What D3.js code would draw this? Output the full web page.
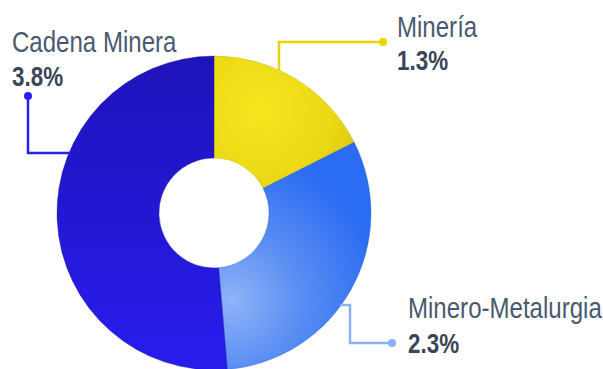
<!DOCTYPE html>
<html>
<head>
<meta charset="utf-8">
<script src="https://cdn.jsdelivr.net/npm/d3@7"></script>
<style>
  body { margin: 0; background: #fff; }
  svg { display: block; }
  text { font-family: "Liberation Sans", Arial, sans-serif; }
</style>
</head>
<body>
<div id="chart"></div>
<script>
// data
var categories = ["Minería", "Minero-Metalurgia", "Cadena Minera"];
var values = [1.3, 2.3, 3.8];
var valueLabels = ["1.3%", "2.3%", "3.8%"];

var width = 603, height = 369;
var cx = 214, cy = 213, outerR = 157, innerR = 55;

var svg = d3.select("#chart").append("svg")
    .attr("width", width)
    .attr("height", height);

var defs = svg.append("defs");

// slice shading (coords relative to the pie centre)
var gY = defs.append("radialGradient").attr("id", "gY")
    .attr("gradientUnits", "userSpaceOnUse")
    .attr("cx", 45).attr("cy", -103).attr("r", 115);
gY.append("stop").attr("offset", "0%").attr("stop-color", "#f5e61e");
gY.append("stop").attr("offset", "65%").attr("stop-color", "#ead814");
gY.append("stop").attr("offset", "100%").attr("stop-color", "#d6c40c");

var gB = defs.append("radialGradient").attr("id", "gB")
    .attr("gradientUnits", "userSpaceOnUse")
    .attr("cx", 18).attr("cy", 88).attr("r", 150);
gB.append("stop").attr("offset", "0%").attr("stop-color", "#8fb3f8");
gB.append("stop").attr("offset", "45%").attr("stop-color", "#5b8ef3");
gB.append("stop").attr("offset", "100%").attr("stop-color", "#2a6cf2");

var gD = defs.append("linearGradient").attr("id", "gD")
    .attr("gradientUnits", "userSpaceOnUse")
    .attr("x1", 0).attr("y1", -outerR).attr("x2", 0).attr("y2", outerR);
gD.append("stop").attr("offset", "0%").attr("stop-color", "#1f13ba");
gD.append("stop").attr("offset", "100%").attr("stop-color", "#281ced");

var fills = ["url(#gY)", "url(#gB)", "url(#gD)"];
var edges = ["#b8a800", "#1c55c8", "#160c90"];
var lineColors = ["#e8d400", "#8ab0f8", "#2a1ef0"];

var pie = d3.pie().sort(null).value(function(d) { return d; });
var arc = d3.arc().innerRadius(innerR).outerRadius(outerR);

var g = svg.append("g").attr("transform", "translate(" + cx + "," + cy + ")");

g.selectAll(".slice")
    .data(pie(values))
  .enter().append("path")
    .attr("class", "slice")
    .attr("d", arc)
    .attr("fill", function(d, i) { return fills[i]; })
    .attr("stroke", function(d, i) { return edges[i]; })
    .attr("stroke-opacity", 0.35)
    .attr("stroke-width", 1);

// leader lines: the line meets the ring edge
function ringX(y, side) { return cx + side * Math.sqrt(outerR * outerR - (y - cy) * (y - cy)); }
function ringY(x) { return cy - Math.sqrt(outerR * outerR - (x - cx) * (x - cx)); }

var leaders = [
  [[279, ringY(279) + 1], [279, 42], [383, 42]],
  [[ringX(305, 1) - 1, 305], [350, 305], [350, 343], [392, 343]],
  [[ringX(153, -1) + 1, 153], [28, 153], [28, 96]]
];
var line = d3.line();

leaders.forEach(function(pts, i) {
  svg.append("path")
      .attr("d", line(pts))
      .attr("fill", "none")
      .attr("stroke", lineColors[i])
      .attr("stroke-width", 2.5);
  var end = pts[pts.length - 1];
  svg.append("circle")
      .attr("cx", end[0]).attr("cy", end[1]).attr("r", 4)
      .attr("fill", lineColors[i]);
});

// labels (condensed look via horizontal squeeze)
var labelPos = [[397, 37, 70], [408, 318, 353], [12, 52, 86]];
categories.forEach(function(c, i) {
  var p = labelPos[i];
  svg.append("text")
      .attr("transform", "translate(" + p[0] + "," + p[1] + ") scale(0.83,1)")
      .attr("font-size", 29)
      .attr("fill", "#4a5a6e")
      .text(c);
  svg.append("text")
      .attr("transform", "translate(" + p[0] + "," + p[2] + ") scale(0.8,1)")
      .attr("font-size", 28)
      .attr("font-weight", "bold")
      .attr("fill", "#3a4556")
      .text(valueLabels[i]);
});
</script>
</body>
</html>
